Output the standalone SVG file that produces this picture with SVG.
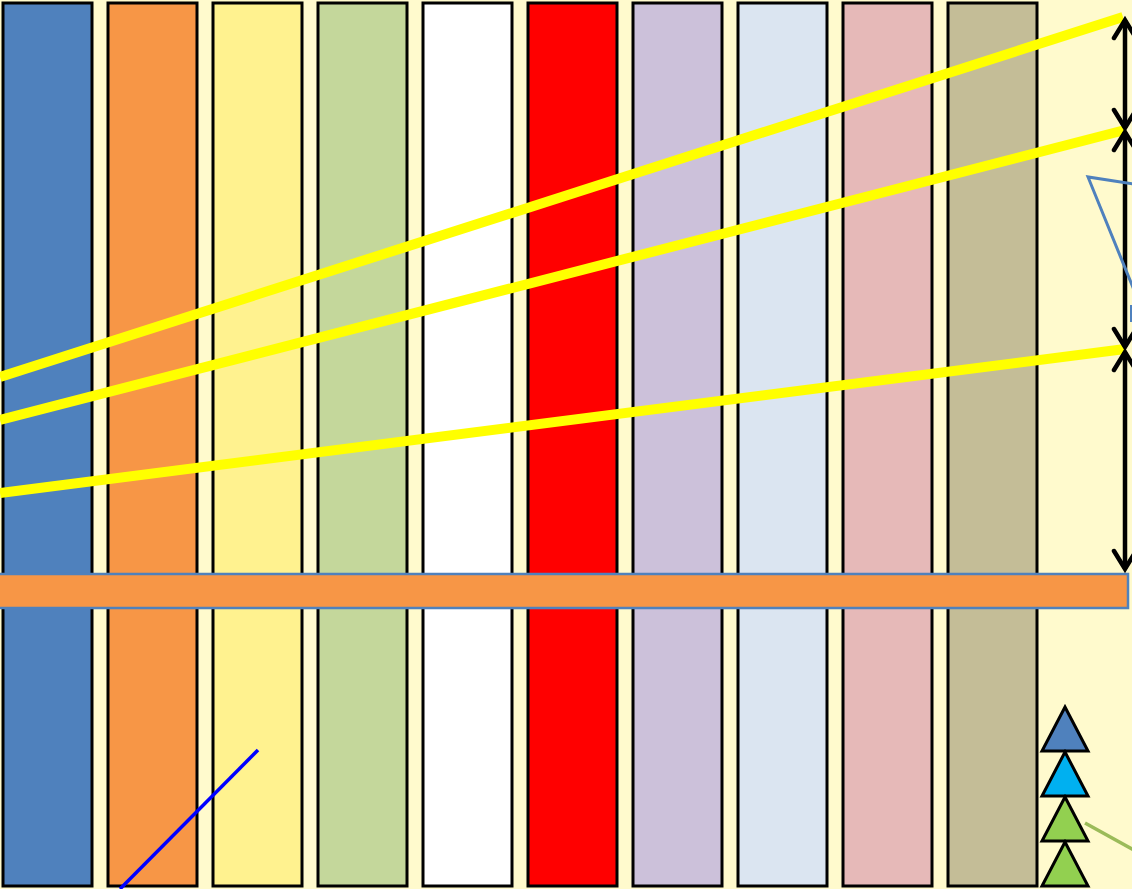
<svg xmlns="http://www.w3.org/2000/svg" width="1132" height="889" viewBox="0 0 1132 889">
<defs>
<style>
.col{stroke:#000;stroke-width:3}
.ray{stroke:#FFFF00;stroke-width:10;fill:none;stroke-linecap:butt}
.dim{stroke:#000;stroke-width:4.5;fill:none}
.head{stroke:#000;stroke-width:4.5;fill:none;stroke-linecap:round;stroke-linejoin:miter}
.tri{stroke:#000;stroke-width:3;stroke-linejoin:miter}
</style>
</defs>
<rect width="1132" height="889" fill="#FFFACD"/>
<g id="columns">
<rect id="col1" class="col" x="3" y="3" width="89" height="883" fill="#4F81BD"/>
<rect id="col2" class="col" x="108" y="3" width="89" height="883" fill="#F79646"/>
<rect id="col3" class="col" x="213" y="3" width="89" height="883" fill="#FFF28F"/>
<rect id="col4" class="col" x="318" y="3" width="89" height="883" fill="#C4D79B"/>
<rect id="col5" class="col" x="423" y="3" width="89" height="883" fill="#FFFFFF"/>
<rect id="col6" class="col" x="528" y="3" width="89" height="883" fill="#FF0000"/>
<rect id="col7" class="col" x="633" y="3" width="89" height="883" fill="#CCC1DA"/>
<rect id="col8" class="col" x="738" y="3" width="89" height="883" fill="#DBE5F1"/>
<rect id="col9" class="col" x="843" y="3" width="89" height="883" fill="#E6B9B8"/>
<rect id="col10" class="col" x="948" y="3" width="89" height="883" fill="#C4BD97"/>
</g>
<g id="bar">
<rect x="-2" y="574" width="1130" height="34" fill="#F79646" stroke="#4F81BD" stroke-width="2.5"/>
</g>
<g id="connectors">
<line class="ray" x1="0" y1="377" x2="1123" y2="17"/>
<line class="ray" x1="0" y1="420" x2="1125" y2="130"/>
<line class="ray" x1="0" y1="493" x2="1125" y2="349"/>
<line class="dim" x1="1125" y1="20" x2="1125" y2="128"/>
<polyline class="head" points="1114,38 1125,20 1136,38"/>
<polyline class="head" points="1114,110 1125,128 1136,110"/>
<line class="dim" x1="1125" y1="132" x2="1125" y2="347"/>
<polyline class="head" points="1114,150 1125,132 1136,150"/>
<polyline class="head" points="1114,329 1125,347 1136,329"/>
<line class="dim" x1="1125" y1="352" x2="1125" y2="569"/>
<polyline class="head" points="1114,370 1125,352 1136,370"/>
<polyline class="head" points="1114,551 1125,569 1136,551"/>
<polyline points="1134,184 1088,177 1134,290" fill="none" stroke="#4F81BD" stroke-width="3"/>
<line x1="1131" y1="305" x2="1131" y2="322" stroke="#4F81BD" stroke-width="2"/>
<line x1="120" y1="889" x2="258" y2="750" stroke="#0000FF" stroke-width="3.5"/>
<line x1="1085" y1="823" x2="1134" y2="850" stroke="#9BBB59" stroke-width="3.5"/>
</g>
<g id="triangles">
<polygon id="tri1" class="tri" points="1065,707 1088,751 1042,751" fill="#4F81BD"/>
<polygon id="tri2" class="tri" points="1065,752 1088,796 1042,796" fill="#00B0F0"/>
<polygon id="tri3" class="tri" points="1065,797 1088,841 1042,841" fill="#92D050"/>
<polygon id="tri4" class="tri" points="1065,842 1088,886 1042,886" fill="#92D050"/>
</g>
</svg>
